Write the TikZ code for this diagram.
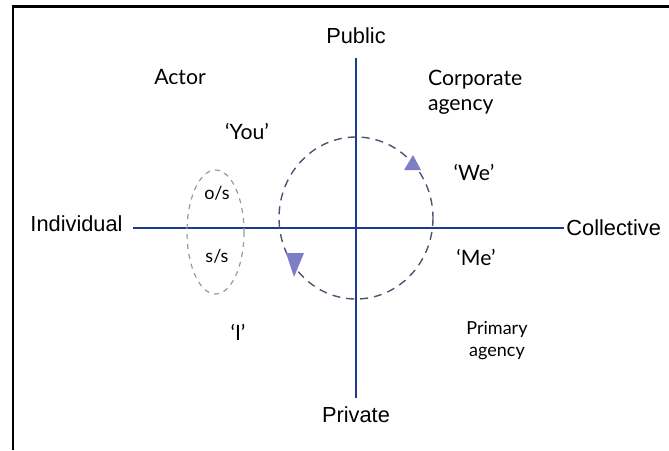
\documentclass[tikz,border=0pt]{standalone}
\usepackage{fontspec}
\setmainfont{Liberation Sans}
\newfontfamily\gill{Lato}
\usetikzlibrary{positioning}
\definecolor{axc}{HTML}{1C3A8E}
\definecolor{loop}{HTML}{4E5470}
\definecolor{fog}{HTML}{9A9A9A}
\definecolor{tri}{HTML}{7E7EC6}
\tikzset{
  axl/.style={draw=axc, line width=1pt},
  big/.style={font=\fontsize{10.9}{12}\selectfont},
  gl/.style={font=\gill\fontsize{10.6}{12.4}\selectfont, align=left},
  gs/.style={font=\gill\fontsize{9}{11}\selectfont, align=center},
  loopln/.style={draw=loop, line width=0.7pt, dash pattern=on 4pt off 3pt},
  fogln/.style={draw=fog, line width=0.6pt, dash pattern=on 2.5pt off 2.5pt}}

\begin{document}
\begin{tikzpicture}[x=0.5pt, y=-0.5pt]
\useasboundingbox (0,0) rectangle (669,450);
% frame
\draw[line width=1.2pt] (13,450) -- (13,6.5) -- (669,6.5);
% axes
\coordinate (top) at (356,58);
\coordinate (bot) at (356,398);
\coordinate (lft) at (133,228);
\coordinate (rgt) at (564,228);
\draw[axl] (top) -- (bot);
\draw[axl] (lft) -- (rgt);
\node[big] (pub) at (356,36) {Public};
\node[big] (prv) at (356,415) {Private};
\node[big, anchor=east, inner sep=1pt] (ind) at (125,224) {Individual};
\node[big, anchor=west, inner sep=1pt] (col) at (rgt) {Collective};
% quadrant labels
\node[gl] (act) at (180,77) {Actor};
\node[gl, anchor=west] (corp) at (421,92) {Corporate\\agency};
\node[gl] (you) at (247,131) {‘You’};
\node[gl] (we) at (474,172) {‘We’};
\node[gl] (me) at (476,257) {‘Me’};
\node[gl] (i) at (238,332) {‘I’};
\node[gs] (prim) at (497,341) {Primary\\agency};
% o/s and s/s
\draw[fogln] (215.5,232) ellipse [x radius=28.5, y radius=62];
\node[gs] (os) at (217,193) {o/s};
\node[gs] (ss) at (217,256) {s/s};
% the loop
\draw[loopln] (356,218) ellipse [x radius=77, y radius=81];
\fill[tri] (404,170) -- (421,170) -- (413,155) -- cycle;
\fill[tri] (286,253) -- (304,253) -- (294,277) -- cycle;
\end{tikzpicture}
\end{document}
